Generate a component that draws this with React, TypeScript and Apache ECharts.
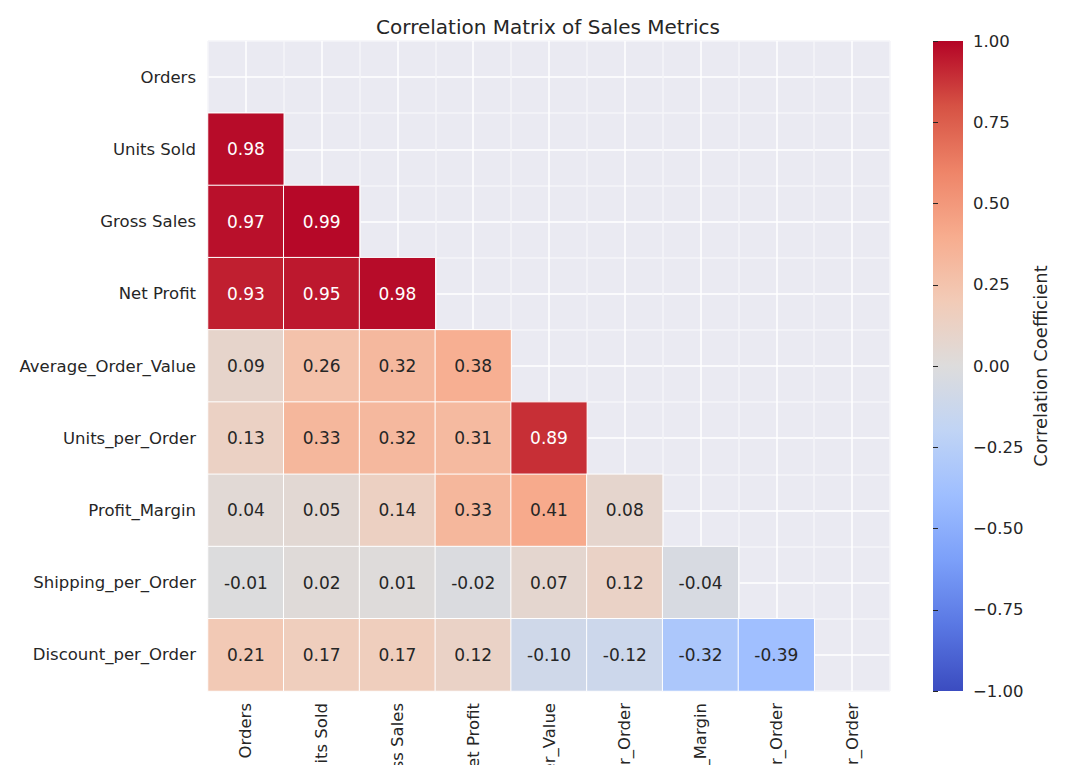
import React, { useEffect, useRef } from 'react';
import * as echarts from 'echarts';

const metrics = [
  'Orders',
  'Units Sold',
  'Gross Sales',
  'Net Profit',
  'Average_Order_Value',
  'Units_per_Order',
  'Profit_Margin',
  'Shipping_per_Order',
  'Discount_per_Order',
];

// lower triangle (row i, columns 0..i-1)
const corrOrders: number[] = [];
const corrUnitsSold = [0.98];
const corrGrossSales = [0.97, 0.99];
const corrNetProfit = [0.93, 0.95, 0.98];
const corrAvgOrderValue = [0.09, 0.26, 0.32, 0.38];
const corrUnitsPerOrder = [0.13, 0.33, 0.32, 0.31, 0.89];
const corrProfitMargin = [0.04, 0.05, 0.14, 0.33, 0.41, 0.08];
const corrShippingPerOrder = [-0.01, 0.02, 0.01, -0.02, 0.07, 0.12, -0.04];
const corrDiscountPerOrder = [0.21, 0.17, 0.17, 0.12, -0.1, -0.12, -0.32, -0.39];

const lowerRows = [
  corrOrders,
  corrUnitsSold,
  corrGrossSales,
  corrNetProfit,
  corrAvgOrderValue,
  corrUnitsPerOrder,
  corrProfitMargin,
  corrShippingPerOrder,
  corrDiscountPerOrder,
];

const coolwarm = [
  '#3b4cc0', '#5977e3', '#7b9ff9', '#9ebeff', '#c0d4f5', '#dddcdc',
  '#f2cbb7', '#f7ac8e', '#ee8468', '#d65244', '#b40426',
];

const TEXT = '#262626';
const FONT = "'DejaVu Sans', sans-serif";

export default function App() {
  const ref = useRef<HTMLDivElement>(null);
  useEffect(() => {
    document.body.style.margin = '0';
    const chart = echarts.init(ref.current!, null, { renderer: 'svg' });
    const data: any[] = [];
    lowerRows.forEach((row, i) => {
      row.forEach((v, j) => {
        data.push({
          value: [j, i, v],
          label: { color: Math.abs(v) >= 0.6 ? '#ffffff' : TEXT },
        });
      });
    });
    const stops = coolwarm
      .slice()
      .reverse()
      .map((c, k) => ({ offset: k / (coolwarm.length - 1), color: c }));
    chart.setOption({
      animation: false,
      textStyle: { fontFamily: FONT },
      title: {
        text: 'Correlation Matrix of Sales Metrics',
        left: 543,
        textAlign: 'center',
        top: 12,
        textStyle: { fontFamily: FONT, fontSize: 20, fontWeight: 'normal', color: TEXT },
      },
      grid: [
        {
          left: 208, right: 190, top: 41, bottom: 74,
          show: true, backgroundColor: '#eaeaf2', borderWidth: 0,
          containLabel: false, outerBoundsMode: 'none',
        },
        {
          left: 933, width: 30, top: 41, height: 650,
          show: true, backgroundColor: new echarts.graphic.LinearGradient(0, 0, 0, 1, stops),
          borderWidth: 0,
          containLabel: false, outerBoundsMode: 'none',
        },
      ],
      xAxis: [
        {
          type: 'category', data: metrics, gridIndex: 0,
          axisLine: { show: false }, axisTick: { show: false },
          splitLine: { show: false },
          axisLabel: { rotate: 90, margin: 12, fontSize: 16.5, color: TEXT, fontFamily: FONT, interval: 0 },
        },
        {
          type: 'value', gridIndex: 0, min: 0, max: 9, interval: 0.5,
          axisLine: { show: false }, axisTick: { show: false }, axisLabel: { show: false },
          splitLine: { show: true, lineStyle: { color: ['#f4f4f8', '#ffffff'], width: 1.5 } },
        },
        {
          type: 'value', gridIndex: 1, min: 0, max: 1, show: false,
        },
      ],
      yAxis: [
        {
          type: 'category', data: metrics, gridIndex: 0, inverse: true,
          axisLine: { show: false }, axisTick: { show: false },
          splitLine: { show: false },
          axisLabel: { margin: 12, fontSize: 16.5, color: TEXT, fontFamily: FONT, interval: 0 },
        },
        {
          type: 'value', gridIndex: 0, min: 0, max: 9, interval: 0.5,
          axisLine: { show: false }, axisTick: { show: false }, axisLabel: { show: false },
          splitLine: { show: true, lineStyle: { color: ['#f4f4f8', '#ffffff'], width: 1.5 } },
        },
        {
          type: 'value', gridIndex: 1, min: -1, max: 1, interval: 0.25, position: 'right',
          axisLine: { show: false },
          axisTick: { show: true, length: 5, lineStyle: { color: TEXT, width: 1 } },
          splitLine: { show: false },
          axisLabel: {
            margin: 10, fontSize: 16.5, color: TEXT, fontFamily: FONT,
            formatter: (v: number) => v.toFixed(2).replace('-', '\u2212'),
          },
          name: 'Correlation Coefficient',
          nameLocation: 'middle',
          nameRotate: 90,
          nameGap: 68,
          nameTextStyle: { fontSize: 18, color: TEXT, fontFamily: FONT },
        },
      ],
      visualMap: {
        show: false, type: 'continuous', min: -1, max: 1, dimension: 2,
        seriesIndex: 0, inRange: { color: coolwarm },
      },
      series: [
        {
          type: 'heatmap',
          xAxisIndex: 0,
          yAxisIndex: 0,
          data,
          label: {
            show: true, fontSize: 17, fontFamily: FONT,
            formatter: (p: any) => p.value[2].toFixed(2),
          },
          itemStyle: { borderColor: '#ffffff', borderWidth: 1 },
          emphasis: { disabled: true },
        },
      ],
    });
    return () => chart.dispose();
  }, []);
  return <div ref={ref} style={{ width: 1080, height: 765 }} />;
}
